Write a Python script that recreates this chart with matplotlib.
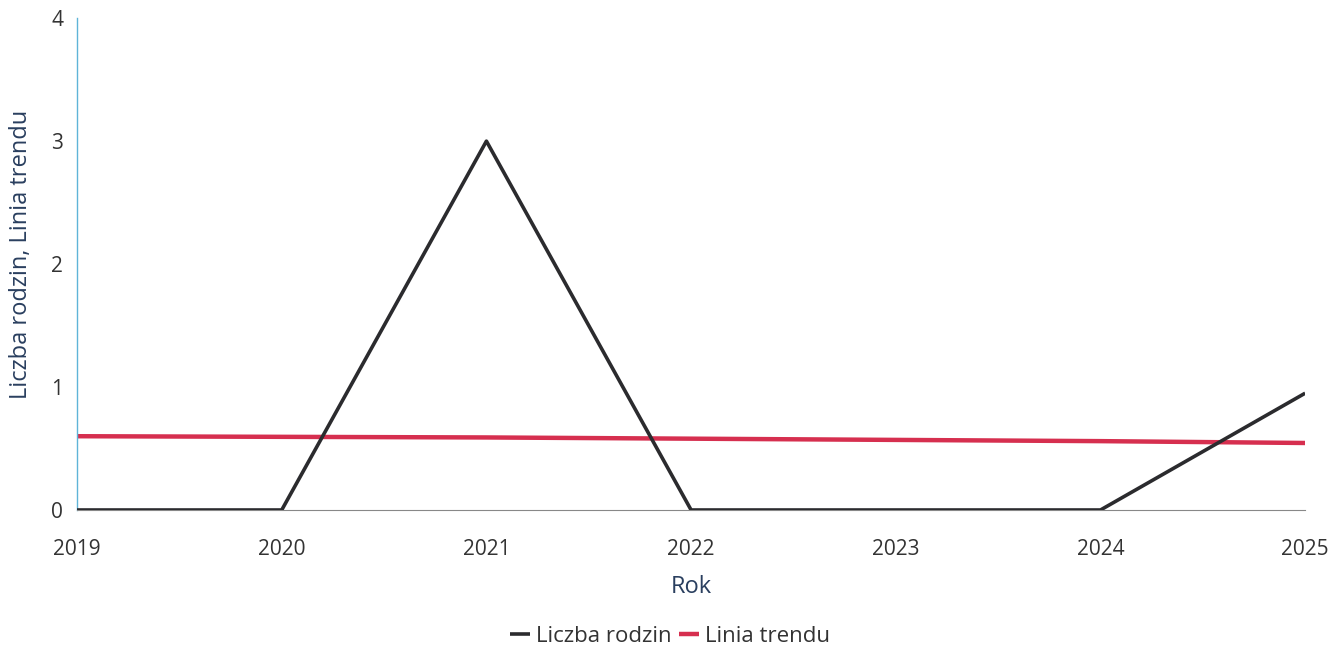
import matplotlib.pyplot as plt

# Data
years = [2019, 2020, 2021, 2022, 2023, 2024, 2025]
families = [0, 0, 3, 0, 0, 0, 0.95]
trend = [0.60, 0.595, 0.59, 0.58, 0.57, 0.56, 0.545]

y_ticks = [0, 1, 2, 3, 4]

plt.rcParams['font.family'] = ['Open Sans', 'DejaVu Sans']

fig = plt.figure(figsize=(13.4, 6.51), dpi=100)
ax = fig.add_axes([0.0575, 0.2166, 0.9165, 0.7555])

ax.plot(years, trend, color='#d62f4f', linewidth=3.2, label='Linia trendu',
        solid_capstyle='butt', zorder=2)
ax.plot(years, families, color='#2b2b2e', linewidth=2.6, label='Liczba rodzin',
        solid_capstyle='butt', zorder=3)

ax.set_xlim(2019, 2025)
ax.set_ylim(0, 4)
ax.set_xticks(years)
ax.set_yticks(y_ticks)

for side in ('top', 'right'):
    ax.spines[side].set_visible(False)
ax.spines['left'].set_color('#5fb4d8')
ax.spines['left'].set_linewidth(1.0)
ax.spines['bottom'].set_color('#888888')
ax.spines['bottom'].set_linewidth(0.8)

ax.tick_params(axis='both', length=0, labelsize=15, labelcolor='#333333')
ax.tick_params(axis='x', pad=21)
ax.tick_params(axis='y', pad=10)

ax.set_xlabel('Rok', fontsize=17, color='#2a3f5f', labelpad=11)
ax.set_ylabel('Liczba rodzin, Linia trendu', fontsize=17, color='#2a3f5f')
ax.yaxis.set_label_coords(-0.036, 0.52)

handles, labels = ax.get_legend_handles_labels()
fig.legend(handles[::-1], labels[::-1], loc='lower center',
           bbox_to_anchor=(0.5, -0.025), ncol=2, frameon=False, fontsize=16,
           handlelength=0.9, handletextpad=0.3, columnspacing=0.3,
           labelcolor='#333333')

fig.savefig('out.png', dpi=100)
